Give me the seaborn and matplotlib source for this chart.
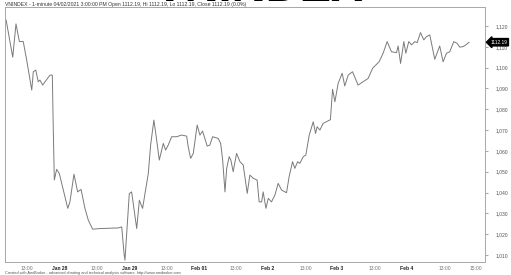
import pandas as pd
import seaborn as sns
import matplotlib.pyplot as plt

sns.set_style("white")
plt.rcParams['font.family'] = ['Liberation Sans', 'DejaVu Sans']

# trading hours elapsed since Jan 27 09:00 (4.5 h per session)
hours = [1.53, 1.96, 2.17, 2.39, 2.64, 2.86, 3.19, 3.29, 3.45, 3.61, 3.72, 3.90, 4.05, 4.37,
         4.52, 4.58, 4.65, 4.80, 4.97, 5.23, 5.52, 5.66, 5.92, 6.16, 6.38, 6.63, 6.85, 7.13,
         7.60, 8.79, 9.01, 9.16, 9.22, 9.33, 9.50, 9.65, 9.98, 10.15, 10.36, 10.73, 10.88,
         11.09, 11.27, 11.44, 11.70, 11.85, 12.02, 12.24, 12.56, 12.88, 13.21, 13.31, 13.47,
         13.64, 13.89, 14.07, 14.24, 14.54, 14.71, 14.89, 15.25, 15.41, 15.54, 15.69, 15.80,
         15.96, 16.07, 16.22, 16.44, 16.66, 16.87, 17.13, 17.30, 17.52, 17.77, 17.90, 18.06,
         18.16, 18.34, 18.49, 18.70, 18.92, 19.13, 19.35, 19.67, 19.84, 20.06, 20.21, 20.39,
         20.53, 20.75, 20.92, 21.14, 21.40, 21.55, 21.65, 21.83, 22.04, 22.51, 22.65, 22.80,
         23.01, 23.27, 23.44, 23.66, 23.94, 24.30, 24.63, 24.95, 25.24, 25.66, 25.92, 26.18,
         26.46, 26.79, 26.89, 27.05, 27.26, 27.39, 27.58, 27.76, 27.97, 28.12, 28.34, 28.55,
         28.73, 28.94, 29.26, 29.58, 29.80, 30.02, 30.23, 30.49, 30.70, 30.88, 31.09, 31.27,
         31.48]
close = [1122.9, 1105.0, 1121.0, 1112.5, 1112.5, 1103.7, 1089.2, 1098.0, 1098.8, 1093.2,
         1094.0, 1091.6, 1093.2, 1096.4, 1096.4, 1071.6, 1046.0, 1051.1, 1049.2, 1041.2,
         1032.4, 1035.5, 1048.8, 1040.3, 1041.5, 1032.4, 1026.7, 1022.4, 1022.7, 1023.0,
         1023.5, 1010.7, 1007.5, 1020.3, 1039.5, 1040.3, 1022.7, 1036.3, 1032.4, 1049.2,
         1062.8, 1074.8, 1065.2, 1055.6, 1063.6, 1060.4, 1062.8, 1066.8, 1066.8, 1067.6,
         1067.1, 1062.0, 1056.4, 1058.8, 1072.4, 1067.6, 1069.5, 1062.3, 1062.8, 1066.8,
         1066.0, 1063.6, 1055.6, 1040.3, 1051.6, 1057.2, 1055.6, 1050.0, 1058.8, 1054.8,
         1053.2, 1039.6, 1048.4, 1046.8, 1046.0, 1035.5, 1035.5, 1040.3, 1032.4, 1037.2,
         1035.5, 1038.8, 1044.4, 1041.2, 1039.9, 1047.6, 1054.8, 1051.6, 1054.8, 1054.0,
         1057.2, 1058.0, 1067.6, 1074.0, 1068.4, 1071.6, 1070.0, 1073.2, 1075.0, 1089.6,
         1083.6, 1092.4, 1097.3, 1091.2, 1096.4, 1098.0, 1091.6, 1093.2, 1094.8, 1099.7,
         1102.8, 1106.9, 1112.5, 1107.6, 1107.2, 1110.4, 1102.0, 1112.5, 1106.9, 1112.5,
         1110.9, 1112.5, 1112.0, 1116.8, 1113.3, 1114.9, 1115.7, 1104.0, 1110.4, 1102.8,
         1106.9, 1107.6, 1112.5, 1111.7, 1109.8, 1110.1, 1110.9, 1112.19]

tick_pos = [2.5, 4.5, 7.0, 9.0, 11.5, 13.5, 16.0, 18.0, 20.5, 22.5, 25.0, 27.0, 29.5, 31.5]
tick_labels = ["13:00", "Jan 28", "13:00", "Jan 29", "13:00", "Feb 01", "13:00", "Feb 2",
               "13:00", "Feb 3", "13:00", "Feb 4", "13:00", "15:00"]
y_ticks = list(range(1010, 1121, 10))

df = pd.DataFrame({"t": hours, "close": close})

fig = plt.figure(figsize=(5.11, 2.75), dpi=100)
ax = fig.add_axes([0.0098, 0.047, 0.939, 0.9275])
sns.lineplot(data=df, x="t", y="close", ax=ax, color="#7a7a7a", linewidth=0.7)

ax.set_xlim(1.46, 32.5)
ax.set_ylim(1006.6, 1129.1)
ax.set_xlabel("")
ax.set_ylabel("")
for s in ax.spines.values():
    s.set_color("#a8a8a8")
    s.set_linewidth(0.7)

ax.yaxis.tick_right()
ax.set_yticks(y_ticks)
ax.set_yticklabels([f"{v:,}" for v in y_ticks], fontsize=3.6, color="#555555")
ax.tick_params(axis="y", direction="out", length=2, pad=6, color="#a8a8a8")

ax.set_xticks(tick_pos)
ax.set_xticklabels(tick_labels, fontsize=3.6)
ax.tick_params(axis="x", direction="out", length=2.5, pad=0.3, color="#a8a8a8")
for lab in ax.get_xticklabels():
    lab.set_horizontalalignment("left")
    if lab.get_text() in ("13:00", "15:00"):
        lab.set_color("#777777")
    else:
        lab.set_fontweight("bold")
        lab.set_color("#222222")

# last price tag
ax.annotate(f"{close[-1]:.2f}", xy=(1.0, close[-1]), xycoords=("axes fraction", "data"),
            xytext=(4, 0), textcoords="offset points", fontsize=3.4, color="white",
            va="center", ha="left", annotation_clip=False,
            bbox=dict(boxstyle="larrow,pad=0.25", fc="black", ec="black"))

fig.text(0.01, 0.984, "VNINDEX - 1-minute 04/02/2021 3:00:00 PM Open 1112.19, Hi 1112.19, "
         "Lo 1112.19, Close 1112.19 (0.0%)", fontsize=3.7, color="#333333", va="center")
fig.text(0.505, 1.0 - 1.0 / 275, "VNINDEX", fontsize=34, fontweight="bold", color="black",
         ha="center", va="baseline")
fig.text(0.01, 0.0, "Created with AmiBroker - advanced charting and technical analysis "
         "software. http://www.amibroker.com", fontsize=2.8, color="#555555", va="bottom")

fig.savefig("out.png", dpi=100)
